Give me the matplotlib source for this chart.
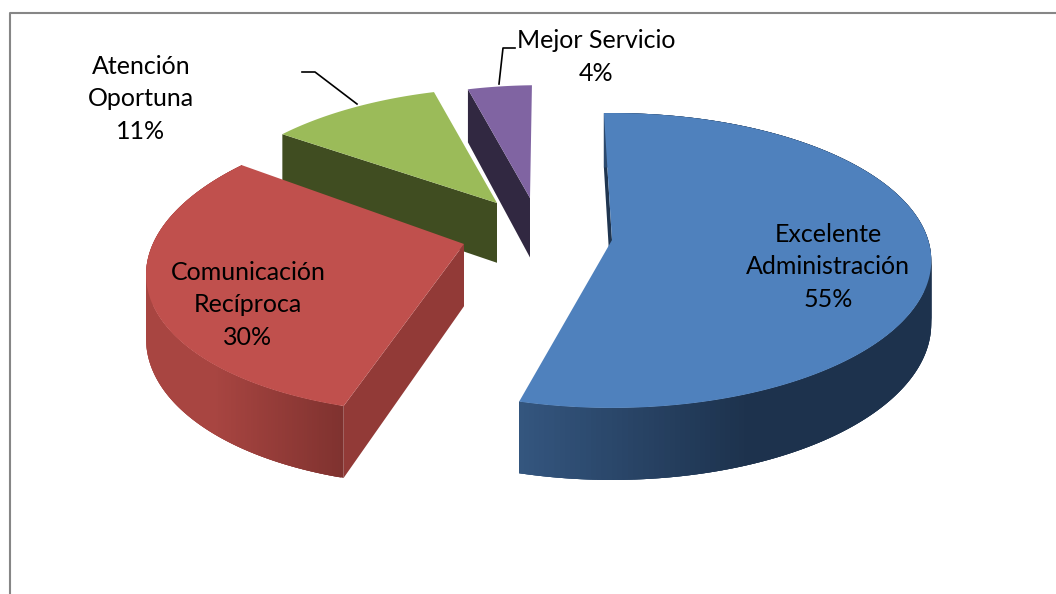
import numpy as np
import matplotlib
matplotlib.use("Agg")
import matplotlib.pyplot as plt
from matplotlib.patches import Polygon

# chart data
names = ["Excelente\nAdministración", "Comunicación\nRecíproca", "Atención\nOportuna", "Mejor Servicio"]
values = [55, 30, 11, 4]

# look of each slice
top_colors = ["#4F81BD", "#C0504D", "#9BBB59", "#8064A2"]
face_colors = ["#1F3550", "#923A37", "#404D21", "#312841"]
rim_dark = ["#1D324D", "#7F322F"]
rim_light = ["#34567F", "#A84541"]
rim_span = [(750, 521), (345, 215)]  # page x where the rim goes dark to light, back slices show no rim
apex = [(612, 240), (464, 244), (497, 203), (530, 198)]
radius = [(1.02, 1.0), (1.0, 1.0), (0.97, 0.97), (0.95, 0.955)]
angle_fix = [(0, -1.6), (-0.6, 1.5), (0.2, -1.0), (-0.3, 0)]  # 3d view bends the angles a bit
label_pos = [(828, 267), (248, 305), (141, 99), (596, 57)]

# projection of the pie plane to the page
cx, cy = 613, 240
rx, ry = 310, 144.6
persp = 0.139
depth = 62
start_angle = -1.7


def project(u, v, z=0):
    w = 1 + persp * v
    return cx + rx * u / w, cy - ry * v / w + z * depth / w


def unproject(sx, sy):
    d = sy - cy
    v = -d / (ry + persp * d)
    return (sx - cx) * (1 + persp * v) / rx, v


def mix(c1, c2, t):
    a = np.array(matplotlib.colors.to_rgb(c1))
    b = np.array(matplotlib.colors.to_rgb(c2))
    return tuple(a + (b - a) * t)


def draw_slice(ax, i, a0, a1):
    ou, ov = unproject(*apex[i])
    angs = np.radians(np.linspace(a0, a1, 240))
    us = ou + radius[i][0] * np.sin(angs)
    vs = ov + radius[i][1] * np.cos(angs)
    order = {0: 8, 1: 6, 2: 4, 3: 2}[i]

    # radial wall, the end wall always faces away
    pts = [project(ou, ov), project(us[0], vs[0]), project(us[0], vs[0], 1), project(ou, ov, 1)]
    ax.add_patch(Polygon(pts, closed=True, fc=face_colors[i], lw=0, zorder=order))

    # outer rim, overlapping strips so no seams show
    if i < len(rim_span):
        x_dark, x_light = rim_span[i]
        for j in range(len(angs) - 1):
            k = min(j + 3, len(angs) - 1)
            p1 = project(us[j], vs[j])
            t = np.clip((p1[0] - x_dark) / (x_light - x_dark), 0, 1)
            pts = [p1, project(us[k], vs[k]), project(us[k], vs[k], 1), project(us[j], vs[j], 1)]
            ax.add_patch(Polygon(pts, closed=True, fc=mix(rim_dark[i], rim_light[i], t), lw=0,
                                 zorder=order))

    # top
    pts = [project(ou, ov)] + [project(u, v) for u, v in zip(us, vs)]
    ax.add_patch(Polygon(pts, closed=True, fc=top_colors[i], lw=0, zorder=order + 1))


fig = plt.figure(figsize=(10.56, 5.94), dpi=100, facecolor="white")
ax = fig.add_axes([0, 0, 1, 1])
ax.set_xlim(0, 1056)
ax.set_ylim(594, 0)
ax.axis("off")

# chart frame, cut by the picture edge
ax.plot([9.5, 9.5, 1056], [594, 12.5, 12.5], color="#868686", lw=1.5, zorder=1)

angle = start_angle
for i, val in enumerate(values):
    sweep = val / sum(values) * 360
    draw_slice(ax, i, angle + angle_fix[i][0], angle + sweep + angle_fix[i][1])
    angle += sweep

# leader lines
ax.plot([302, 315, 357], [72, 72, 104], color="black", lw=1.2, zorder=12)
ax.plot([515, 503, 499], [48, 48, 84], color="black", lw=1.2, zorder=12)

for name, val, (x, y) in zip(names, values, label_pos):
    ax.text(x, y, "%s\n%d%%" % (name, val), ha="center", va="center", family="Lato",
            fontsize=18, color="black", linespacing=1.52, zorder=13)

fig.savefig("out.png", dpi=100, facecolor="white")
